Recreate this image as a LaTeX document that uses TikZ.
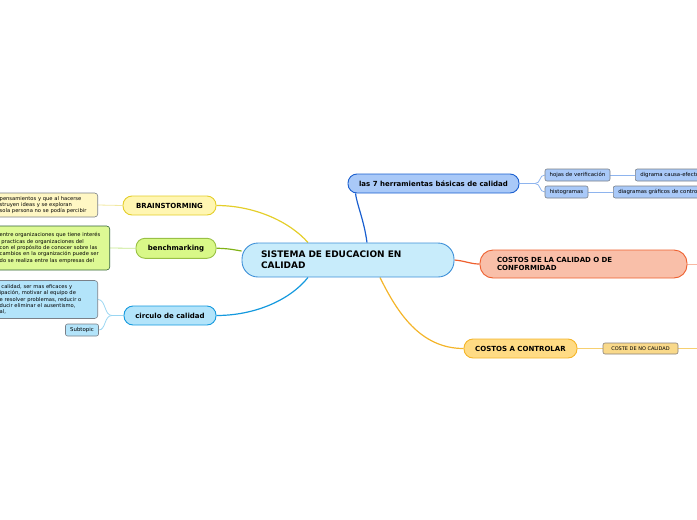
\documentclass[tikz,border=0pt]{standalone}
\usepackage{fontspec}
\setmainfont{DejaVu Sans}
\usetikzlibrary{backgrounds}

% colours of the branches
\definecolor{cenfill}{HTML}{C8ECFB}
\definecolor{cenline}{HTML}{3E90D8}
\definecolor{herrfill}{HTML}{A9C9F8}
\definecolor{herrline}{HTML}{1A5FCF}
\definecolor{herrsub}{HTML}{8EB4EE}
\definecolor{costfill}{HTML}{F9BFA9}
\definecolor{costline}{HTML}{EE5F2E}
\definecolor{costsub}{HTML}{F8B8A2}
\definecolor{ctrlfill}{HTML}{FFDB84}
\definecolor{ctrlline}{HTML}{F4B52A}
\definecolor{ctrlsub}{HTML}{F7D070}
\definecolor{nocalfill}{HTML}{F9D98A}
\definecolor{brainfill}{HTML}{FFF6B2}
\definecolor{brainline}{HTML}{E4CE2A}
\definecolor{brainsub}{HTML}{F1E8A0}
\definecolor{braintxtfill}{HTML}{FFF7C4}
\definecolor{benchfill}{HTML}{D9F888}
\definecolor{benchline}{HTML}{80B216}
\definecolor{benchsub}{HTML}{C6E88E}
\definecolor{circfill}{HTML}{B3E4FA}
\definecolor{circline}{HTML}{1499DE}
\definecolor{circsub}{HTML}{9AD6F2}
\definecolor{leafgray}{HTML}{7A8088}

\begin{document}
\begin{tikzpicture}[x=1pt, y=-1pt,
  every node/.style={inner sep=0pt},
  topic/.style={draw, line width=0.9pt, rounded corners=8pt, align=center,
    font=\fontsize{7}{8.5}\selectfont\bfseries},
  leaf/.style={draw=leafgray, line width=0.6pt, rounded corners=2pt, align=center,
    minimum height=12pt, font=\fontsize{5.4}{6.2}\selectfont},
  note/.style={draw=leafgray, line width=0.6pt, rounded corners=3pt, align=left,
    inner xsep=3pt, text width=95pt, font=\fontsize{5.2}{6.3}\selectfont},
  link/.style={line width=1.2pt},
  sublink/.style={line width=0.8pt}]

  \useasboundingbox (0,0) rectangle (697,520);
  \clip (0,0) rectangle (697,520);

  % central topic
  \node[topic, fill=cenfill, draw=cenline, rounded corners=16pt, minimum width=212pt,
    minimum height=34pt, text width=174pt, align=left,
    font=\fontsize{9}{11}\selectfont\bfseries] (central) at (348,260)
    {SISTEMA DE EDUCACION EN\\CALIDAD};

  % right side
  \node[topic, fill=herrfill, draw=herrline, rounded corners=9pt, minimum width=171pt,
    minimum height=19pt] (herr) at (433.5,183.5) {las 7 herramientas básicas de calidad};
  \node[leaf, fill=herrfill, minimum width=65pt] (hojas) at (577.5,175) {hojas de verificación};
  \node[leaf, fill=herrfill, anchor=west, inner xsep=5pt] (digrama) at (635,175) {digrama causa-efecto};
  \node[leaf, fill=herrfill, minimum width=43pt] (histo) at (566.5,192) {histogramas};
  \node[leaf, fill=herrfill, anchor=west, inner xsep=5pt] (diagramas) at (613,192) {diagramas gráficos de control};

  \node[topic, fill=costfill, draw=costline, rounded corners=13pt, minimum width=207pt,
    minimum height=28pt, text width=173pt, align=left] (costos) at (583.5,264)
    {COSTOS DE LA CALIDAD O DE\\CONFORMIDAD};

  \node[topic, fill=ctrlfill, draw=ctrlline, rounded corners=9pt, minimum width=113pt,
    minimum height=19pt] (ctrl) at (520.5,348.5) {COSTOS A CONTROLAR};
  \node[leaf, fill=nocalfill, draw=leafgray!80!brown, minimum width=75pt, minimum height=11pt,
    font=\fontsize{5}{6}\selectfont] (nocal) at (640.5,348.5) {COSTE DE NO CALIDAD};

  % left side
  \node[topic, fill=brainfill, draw=brainline, rounded corners=9pt, minimum width=93pt,
    minimum height=19pt] (brain) at (169.5,205.5) {BRAINSTORMING};
  \node[note, fill=braintxtfill, minimum height=24pt, anchor=east] (braintxt) at (98,205)
    {pensamientos y que al hacerse\\struyen ideas y se exploran\\sola persona no se podía percibir};

  \node[topic, fill=benchfill, draw=benchline!80, rounded corners=9pt, minimum width=80pt,
    minimum height=20pt] (bench) at (176,248.3) {benchmarking};
  \node[note, fill=benchfill!90!white, draw=leafgray!70!green!60!black, minimum height=44pt,
    text width=107pt, anchor=east] (benchtxt) at (110,248)
    {entre organizaciones que tiene interés\\ \ practicas de organizaciones del\\con el propósito de conocer sobre las\\cambios en la organización puede ser\\do se realiza entre las empresas del};

  \node[topic, fill=circfill, draw=circline, rounded corners=9pt, minimum width=92pt,
    minimum height=19pt] (circ) at (170,315.5) {circulo de calidad};
  \node[note, fill=circfill, minimum height=38pt, anchor=east] (circtxt) at (98,299.5)
    {\ calidad, ser mas eficaces y\\ipación, motivar al equipo de\\e resolver problemas, reducir o\\ducir eliminar el ausentismo,\\al,};
  \node[leaf, fill=circfill, minimum width=33pt] (subtopic) at (82,330) {Subtopic};

  % loose ends and forks
  \coordinate (herrfork) at (535,183.5);
  \coordinate (circfork) at (112,315.5);
  \coordinate (costend) at (697,264);
  \coordinate (nocalend) at (697,348.5);

  \begin{pgfonlayer}{background}
    % main branches
    \draw[link, herrline] ([xshift=19pt]central.north) .. controls (364,220) and (357,205) .. ([xshift=-78pt]herr.south);
    \draw[link, costline] (central.east) .. controls (466,261) and (470,264) .. (costos.west);
    \draw[link, ctrlline] ([xshift=32pt]central.south) .. controls (397,312) and (420,348.5) .. (ctrl.west);
    \draw[link, brainline] ([xshift=-40pt]central.north) .. controls (290,222) and (255,205.5) .. (brain.east);
    \draw[link, benchline] ([yshift=9pt]central.west) .. controls (230,249) and (225,248.3) .. (bench.east);
    \draw[link, circline] ([xshift=-40pt]central.south) .. controls (290,300) and (255,315.5) .. (circ.east);

    % sub branches
    \draw[sublink, herrsub] (herr.east) -- (herrfork) .. controls (541,183.5) and (539,175) .. (hojas.west);
    \draw[sublink, herrsub] (herrfork) .. controls (541,183.5) and (539,192) .. (histo.west);
    \draw[sublink, herrsub] (hojas.east) -- (digrama.west);
    \draw[sublink, herrsub] (histo.east) -- (diagramas.west);
    \draw[sublink, costsub] (costos.east) -- (costend);
    \draw[sublink, ctrlsub] (ctrl.east) -- (nocal.west);
    \draw[sublink, ctrlsub] (nocal.east) -- (nocalend);
    \draw[sublink, brainsub] (braintxt.east) -- (brain.west);
    \draw[sublink, benchsub] (benchtxt.east) -- (bench.west);
    \draw[sublink, circsub] (circ.west) -- (circfork) .. controls (104,315.5) and (106,299.5) .. (circtxt.east);
    \draw[sublink, circsub] (circfork) .. controls (104,315.5) and (106,330) .. (subtopic.east);
  \end{pgfonlayer}
\end{tikzpicture}
\end{document}
